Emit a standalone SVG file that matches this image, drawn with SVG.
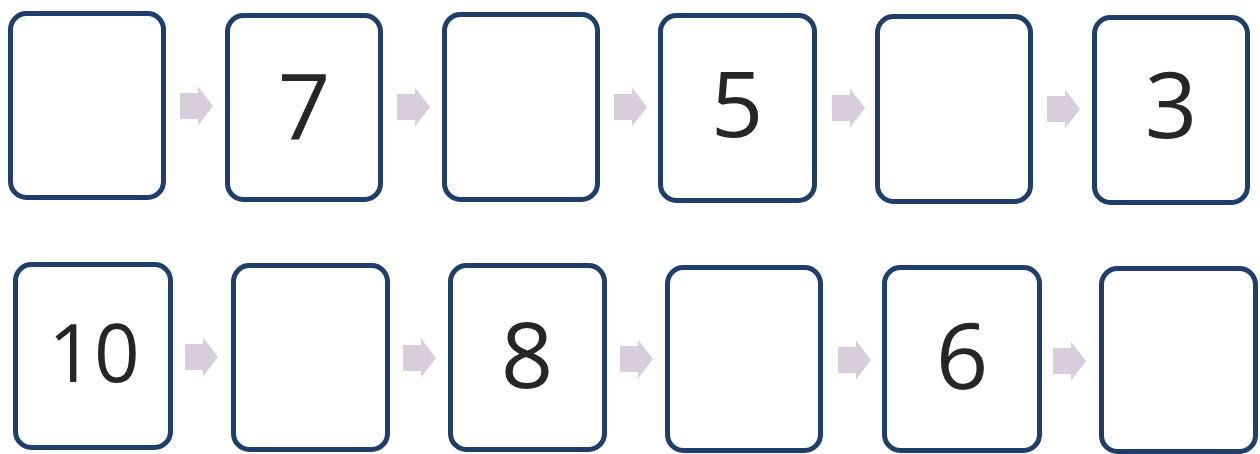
<svg xmlns="http://www.w3.org/2000/svg" width="1260" height="454" viewBox="0 0 1260 454">
<style>
.box{fill:#ffffff;stroke:#1f3e69;stroke-width:5}
.num{font-family:"Open Sans","Liberation Sans",sans-serif;font-size:92px;fill:#262626;text-anchor:middle}
.arr{fill:#d8cdda}
</style>
<defs>
<path id="arrow" class="arr" d="M0,-13 H18 V-19.5 L33,0 L18,19.5 V13 H0 Z"/>
</defs>
<rect width="1260" height="454" fill="#ffffff"/>
<g id="connectors">
<use href="#arrow" x="180" y="106"/>
<use href="#arrow" x="397" y="107"/>
<use href="#arrow" x="614" y="107"/>
<use href="#arrow" x="832" y="108"/>
<use href="#arrow" x="1047" y="109"/>
<use href="#arrow" x="185" y="357"/>
<use href="#arrow" x="403" y="358"/>
<use href="#arrow" x="620" y="359"/>
<use href="#arrow" x="838" y="360"/>
<use href="#arrow" x="1053" y="361"/>
</g>
<g id="n1"><rect class="box" x="10.5" y="13.5" width="153" height="184" rx="16"/></g>
<g id="n2"><rect class="box" x="227.5" y="15.5" width="153" height="184" rx="16"/><text class="num" x="304" y="140">7</text></g>
<g id="n3"><rect class="box" x="444.5" y="14.5" width="153" height="185" rx="16"/></g>
<g id="n4"><rect class="box" x="660.5" y="15.5" width="154" height="185" rx="16"/><text class="num" x="737" y="137">5</text></g>
<g id="n5"><rect class="box" x="877.5" y="16.5" width="153" height="185" rx="16"/></g>
<g id="n6"><rect class="box" x="1094.5" y="17.5" width="153" height="185" rx="16"/><text class="num" x="1171" y="138">3</text></g>
<g id="n7"><rect class="box" x="15.5" y="264.5" width="155" height="183" rx="16"/><text class="num" x="94" y="382" style="font-size:80px">10</text></g>
<g id="n8"><rect class="box" x="233.5" y="265.5" width="154" height="184" rx="16"/></g>
<g id="n9"><rect class="box" x="450.5" y="265.5" width="154" height="184" rx="16"/><text class="num" x="527" y="388">8</text></g>
<g id="n10"><rect class="box" x="667.5" y="267.5" width="153" height="183" rx="16"/></g>
<g id="n11"><rect class="box" x="884.5" y="267.5" width="155" height="183" rx="16"/><text class="num" x="962" y="389">6</text></g>
<g id="n12"><rect class="box" x="1101.5" y="268.5" width="154" height="183" rx="16"/></g>
</svg>
